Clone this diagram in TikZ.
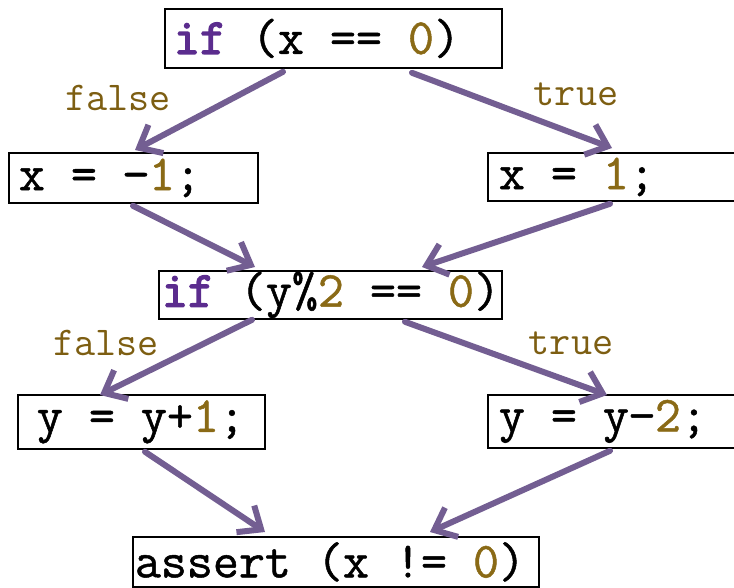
\documentclass[tikz,border=0pt]{standalone}
\usepackage{fontspec}
\setmonofont{Latin Modern Mono}
\newfontfamily\kwfont[FakeBold=3]{Latin Modern Mono}
\newfontfamily\codefont[FakeBold=1]{Latin Modern Mono}
\usetikzlibrary{arrows.meta,calc}
\definecolor{kw}{HTML}{5B2C8E}
\definecolor{num}{HTML}{8A6A16}
\definecolor{lab}{HTML}{7D5E12}
\definecolor{arr}{HTML}{735E92}
\newcommand{\kwd}[1]{{\kwfont\color{kw}#1}}
\newcommand{\nm}[1]{{\color{num}#1}}
\newcommand{\codeline}[1]{\mbox{\spaceskip=0pt\xspaceskip=0pt #1}}
\begin{document}
\begin{tikzpicture}[x=1pt,y=-1pt,
  box/.style={draw=black, line width=1.8pt, font=\codefont\fontsize{50.5}{50.5}\selectfont,
    align=left, anchor=north west, inner ysep=0pt},
  lbl/.style={font=\ttfamily\fontsize{41}{41}\selectfont, text=lab, inner sep=0pt},
  flow/.style={draw=arr, line width=6pt, line cap=round,
    -{Straight Barb[length=19pt,width=32pt]}}]
\useasboundingbox (0,0) rectangle (734,587);
\clip (0,0) rectangle (734,587);
% boxes
\node[box, minimum height=59pt, inner xsep=9pt, text width=319pt] (n1) at (164,8)
  {\codeline{\kwd{if} (x == \nm{0})}};
\node[box, minimum height=50pt, inner xsep=10pt, text width=229pt] (n2) at (8,152)
  {\codeline{x = −\nm{1};}};
\node[box, minimum height=48pt, inner xsep=11pt, text width=238pt] (n3) at (487,152)
  {\codeline{x = \nm{1};}};
\node[box, minimum height=48pt, inner xsep=3pt, text width=337pt] (n4) at (158,270)
  {\codeline{\kwd{if} (y\%\nm{2} == \nm{0})}};
\node[box, minimum height=54pt, inner xsep=19pt, text width=209pt] (n5) at (17,394)
  {\codeline{y = y+\nm{1};}};
\node[box, minimum height=53pt, inner xsep=11pt, text width=238pt] (n6) at (487,394)
  {\codeline{y = y−\nm{2};}};
\node[box, minimum height=50pt, inner xsep=2pt, text width=402pt] (n7) at (132,536)
  {\codeline{assert (x != \nm{0})}};
% labels
\node[lbl] (l1) at (118,98) {false};
\node[lbl] (l2) at (576,94) {true};
\node[lbl] (l3) at (106,343) {false};
\node[lbl] (l4) at (571,343) {true};
% connectors
\draw[flow] ($(n1.south west)+(119,3)$) -- ($(n2.north west)+(127,-2)$);
\draw[flow] ($(n1.south west)+(248,4)$) -- ($(n3.north west)+(125,-4)$);
\draw[flow] ($(n2.south west)+(125,2)$) -- ($(n4.north west)+(97,-3)$);
\draw[flow] ($(n3.south west)+(123,2)$) -- ($(n4.north west)+(264,-3)$);
\draw[flow] ($(n4.south west)+(94,0)$) -- ($(n5.north west)+(83,1)$);
\draw[flow] ($(n4.south west)+(247,2)$) -- ($(n6.north west)+(120,1)$);
\draw[flow] ($(n5.south west)+(128,2)$) -- ($(n7.north west)+(133,-4)$);
\draw[flow] ($(n6.south west)+(123,2)$) -- ($(n7.north west)+(298,-4)$);
\end{tikzpicture}
\end{document}
